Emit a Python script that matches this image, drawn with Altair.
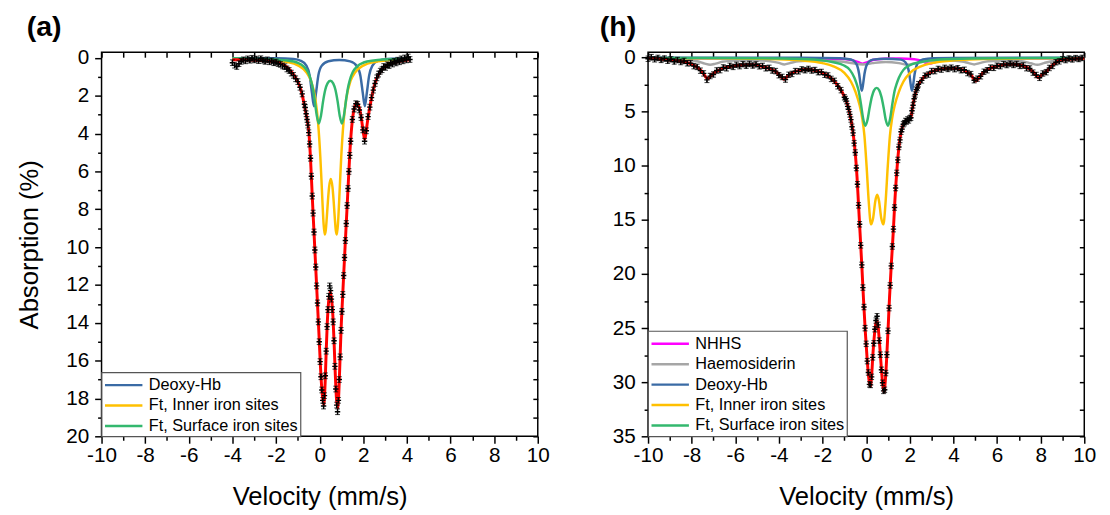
import altair as alt
import pandas as pd

FONT = "Liberation Sans"

# ---------------- Panel (a) ----------------
VEL_A = [-4.0, -3.9, -3.8, -3.7, -3.6, -3.5, -3.4, -3.3, -3.2, -3.1, -3.0, -2.9, -2.8, -2.7, -2.6, -2.5, -2.4,
         -2.3, -2.2, -2.1, -2.0, -1.9, -1.8, -1.7, -1.6, -1.5, -1.4, -1.3, -1.2, -1.1, -1.0, -0.9, -0.8, -0.7,
         -0.66, -0.62, -0.58, -0.54, -0.50, -0.46, -0.42, -0.38, -0.34, -0.30, -0.26, -0.22, -0.18, -0.14,
         -0.10, -0.06, -0.02, 0.02, 0.06, 0.10, 0.14, 0.18, 0.22, 0.26, 0.30, 0.34, 0.38, 0.42, 0.46, 0.50,
         0.54, 0.58, 0.62, 0.66, 0.70, 0.74, 0.78, 0.82, 0.86, 0.90, 0.94, 0.98, 1.02, 1.06, 1.10, 1.14, 1.18,
         1.22, 1.26, 1.30, 1.34, 1.38, 1.42,
         1.50, 1.58, 1.66, 1.74, 1.82, 1.90, 1.98, 2.06, 2.14, 2.22, 2.30, 2.38, 2.46, 2.54, 2.62, 2.70, 2.78,
         2.86, 2.94, 3.02, 3.10, 3.18, 3.26, 3.34, 3.42, 3.50, 3.58, 3.66, 3.74, 3.82, 3.90, 3.98, 4.06, 4.14]
ABS_A = [0.25, 0.38, 0.45, 0.30, 0.18, 0.10, 0.15, 0.05, 0.12, 0.02, 0.10, 0.06, 0.14, 0.04, 0.12, 0.18, 0.10,
         0.20, 0.16, 0.25, 0.22, 0.30, 0.34, 0.42, 0.46, 0.58, 0.66, 0.80, 0.92, 1.10, 1.25, 1.55, 1.90, 2.45,
         2.62, 2.95, 3.25, 3.55, 3.95, 4.55, 5.30, 6.25, 7.30, 8.20, 9.20, 10.15, 11.05, 12.05,
         12.95, 13.95, 15.00, 16.05, 16.85, 17.55, 18.10, 18.40, 17.85, 16.80, 15.50, 14.20, 13.30, 12.60, 12.05, 12.30,
         12.75, 13.30, 13.95, 14.95, 16.30, 17.50, 18.35, 18.70, 18.10, 17.00, 15.80, 14.40, 13.40, 12.50, 11.50, 10.55, 9.65,
         8.75, 7.80, 6.90, 6.00, 5.15, 4.40,
         3.25, 2.70, 2.42, 2.45, 2.75, 3.15, 3.80, 4.40, 3.85, 3.10, 2.60, 2.10, 1.70, 1.35, 1.05, 0.85, 0.70,
         0.62, 0.45, 0.50, 0.36, 0.40, 0.25, 0.32, 0.18, 0.26, 0.12, 0.20, 0.05, 0.15, 0.00, 0.10, -0.05, 0.08]
ERR_A = 0.15

FIT_A_V = [-4.0, -3.5, -3.0, -2.5, -2.0, -1.7, -1.5, -1.33, -1.1, -0.94, -0.8, -0.7, -0.6, -0.49, -0.42, -0.34,
           -0.26, -0.15, -0.04, 0.07, 0.13, 0.19, 0.25, 0.3, 0.35, 0.41, 0.49, 0.56, 0.61, 0.66, 0.72, 0.77, 0.82,
           0.87, 0.92, 0.98, 1.05, 1.1, 1.2, 1.3, 1.38, 1.45, 1.52, 1.6, 1.69, 1.78, 1.87, 1.95, 2.01, 2.07, 2.13,
           2.2, 2.3, 2.4, 2.5, 2.6, 2.75, 2.97, 3.2, 3.5, 3.8, 4.1]
FIT_A = [0.10, 0.10, 0.12, 0.15, 0.22, 0.33, 0.48, 0.68, 1.05, 1.42, 1.95, 2.5, 3.1, 4.0, 5.3, 7.3,
         9.2, 11.8, 14.4, 17.0, 17.9, 18.35, 17.2, 15.5, 14.0, 12.9, 12.36, 12.9, 13.7, 15.0, 16.8, 18.0, 18.5,
         17.9, 16.4, 14.4, 12.7, 11.5, 9.2, 6.9, 5.1, 3.9, 3.1, 2.6, 2.38, 2.5, 2.9, 3.5, 4.0, 4.3, 3.9,
         3.3, 2.6, 2.0, 1.5, 1.12, 0.78, 0.47, 0.33, 0.22, 0.15, 0.10]

DEOXY_A_V = [-4, -2, -1.2, -0.86, -0.61, -0.46, -0.35, -0.26, -0.17, -0.06, 0.09, 0.4, 0.9, 1.4, 1.72, 1.87,
             1.98, 2.07, 2.16, 2.27, 2.42, 2.67, 3.1, 4.1]
DEOXY_A = [0.01, 0.02, 0.06, 0.15, 0.40, 0.92, 1.87, 2.55, 1.87, 0.92, 0.42, 0.17, 0.11, 0.18, 0.45, 0.95,
           1.87, 2.55, 1.87, 0.92, 0.40, 0.15, 0.06, 0.02]
INNER_A_V = [-4, -3, -2, -1.5, -1, -0.6, -0.4, -0.2, -0.07, 0.03, 0.08, 0.13, 0.18, 0.23, 0.28, 0.33, 0.38,
             0.43, 0.51, 0.59, 0.64, 0.69, 0.74, 0.79, 0.84, 0.89, 0.94, 0.99, 1.09, 1.22, 1.42, 1.62, 2.02,
             2.52, 3.02, 4.1]
INNER_A = [0.04, 0.07, 0.135, 0.21, 0.39, 0.77, 1.2, 2.15, 3.46, 5.22, 6.39, 7.66, 8.76, 9.33, 9.11, 8.39, 7.54,
           6.85, 6.40, 6.85, 7.54, 8.39, 9.11, 9.33, 8.76, 7.66, 6.39, 5.22, 3.46, 2.15, 1.2, 0.77, 0.39,
           0.21, 0.135, 0.07]
SURF_A_V = [-4, -3, -2, -1.5, -1.04, -0.74, -0.54, -0.44, -0.34, -0.24, -0.14, -0.04, 0.06, 0.16, 0.26, 0.36,
            0.49, 0.62, 0.72, 0.82, 0.92, 1.02, 1.12, 1.22, 1.32, 1.42, 1.52, 1.72, 2.02, 2.48, 2.98, 4.1]
SURF_A = [0.02, 0.04, 0.08, 0.13, 0.24, 0.44, 0.74, 1.02, 1.46, 2.14, 2.99, 3.47, 3.05, 2.27, 1.67, 1.34,
          1.2, 1.34, 1.67, 2.27, 3.05, 3.47, 2.99, 2.14, 1.46, 1.02, 0.74, 0.44, 0.24, 0.13, 0.08, 0.04]

# ---------------- Panel (h) ----------------
VEL_H = [-10.00, -9.85, -9.70, -9.55, -9.40, -9.25, -9.10, -8.95, -8.80, -8.65, -8.50, -8.35, -8.20, -8.05,
         -7.90, -7.75, -7.60, -7.45, -7.30, -7.15, -7.00, -6.85, -6.70, -6.55, -6.40, -6.25, -6.10, -5.95,
         -5.80, -5.65, -5.50, -5.35, -5.20, -5.05, -4.90, -4.75, -4.60, -4.45, -4.30, -4.15, -4.00, -3.85,
         -3.70, -3.55, -3.40, -3.25, -3.10, -2.95, -2.80, -2.65, -2.50, -2.35, -2.20, -2.05, -1.90, -1.75,
         -1.60, -1.45, -1.30, -1.15, -1.00,
         -0.95, -0.90, -0.85, -0.80, -0.75, -0.70, -0.65, -0.60, -0.55, -0.50, -0.45, -0.40, -0.35, -0.30,
         -0.25, -0.20, -0.15, -0.10, -0.05, 0.00, 0.05, 0.10, 0.15, 0.20, 0.25, 0.30, 0.35, 0.40, 0.45, 0.50,
         0.55, 0.60, 0.65, 0.70, 0.75, 0.80, 0.85, 0.90, 0.95, 1.00, 1.05, 1.10, 1.15, 1.20, 1.25, 1.30, 1.35,
         1.40, 1.45, 1.50, 1.55, 1.60, 1.65, 1.70, 1.75, 1.80, 1.85, 1.90, 1.95, 2.00, 2.05, 2.10, 2.15, 2.20,
         2.25, 2.30, 2.35, 2.40,
         2.55, 2.70, 2.85, 3.00, 3.15, 3.30, 3.45, 3.60, 3.75, 3.90, 4.05, 4.20, 4.35, 4.50, 4.65, 4.80, 4.95,
         5.10, 5.25, 5.40, 5.55, 5.70, 5.85, 6.00, 6.15, 6.30, 6.45, 6.60, 6.75, 6.90, 7.05, 7.20, 7.35, 7.50,
         7.65, 7.80, 7.95, 8.10, 8.25, 8.40, 8.55, 8.70, 8.85, 9.00, 9.15, 9.30, 9.45, 9.60, 9.75, 9.90]
ABS_H = [0.10, -0.05, 0.15, 0.02, 0.20, 0.08, 0.28, 0.15, 0.35, 0.22, 0.40, 0.30, 0.52, 0.50,
         0.78, 0.85, 1.20, 1.45, 2.05, 1.70, 1.55, 1.18, 1.15, 0.90, 0.98, 0.75, 0.85, 0.66,
         0.78, 0.60, 0.74, 0.58, 0.72, 0.62, 0.80, 0.76, 0.98, 0.94, 1.18, 1.24, 1.62, 1.78,
         2.02, 1.58, 1.50, 1.24, 1.26, 1.08, 1.16, 1.04, 1.18, 1.14, 1.34, 1.32, 1.58, 1.64,
         1.96, 2.14, 2.64, 3.00, 3.66,
         3.82, 4.02, 4.50, 4.78, 5.24, 5.72, 6.38, 6.95, 7.90, 8.76, 10.20, 11.70, 13.65, 15.40,
         17.35, 19.15, 21.25, 23.05, 25.00, 26.45, 28.05, 29.10, 30.20, 30.25, 29.50, 27.70, 26.40, 25.10, 24.30, 23.90,
         24.70, 26.15, 27.45, 28.85, 30.05, 30.80, 30.70, 29.15, 27.45, 25.25, 23.15, 21.05, 19.25, 17.45, 15.85, 13.85, 12.05,
         10.65, 9.45, 8.25, 7.60, 6.85, 6.60, 6.15, 6.05, 5.85, 5.90, 5.70, 5.80, 5.60, 5.55, 4.90, 4.40, 3.80,
         3.40, 2.95, 2.80, 2.45,
         2.10, 1.66, 1.56, 1.24, 1.24, 1.04, 1.10, 0.94, 1.04, 0.92, 1.06, 0.98, 1.16, 1.12, 1.42, 1.52, 2.08,
         1.94, 1.72, 1.30, 1.16, 0.92, 0.94, 0.74, 0.78, 0.60, 0.68, 0.55, 0.67, 0.58, 0.76, 0.72, 0.97, 1.00,
         1.38, 1.60, 1.86, 1.46, 1.34, 0.95, 0.76, 0.42, 0.34, 0.14, 0.22, 0.08, 0.16, 0.04, 0.12, 0.02]
ERR_H = 0.25

FIT_H_V = [-10, -9.64, -9.11, -8.6, -8.2, -7.9, -7.6, -7.4, -7.28, -7.15, -7.0, -6.8, -6.55, -6.2, -5.8, -5.4,
           -5.05, -4.8, -4.6, -4.35, -4.14, -3.95, -3.77, -3.6, -3.4, -3.1, -2.79, -2.5, -2.34, -2.0, -1.74, -1.5,
           -1.29, -1.1, -0.91, -0.75, -0.61, -0.5, -0.42, -0.35, -0.28, -0.2, -0.12, -0.04, 0.05, 0.13, 0.19,
           0.25, 0.31, 0.38, 0.44, 0.49, 0.55, 0.62, 0.7, 0.77, 0.82, 0.88, 0.94, 1.0, 1.07, 1.15, 1.24, 1.32,
           1.42, 1.5, 1.6, 1.72, 1.85, 1.97, 2.05, 2.12, 2.18, 2.28, 2.4, 2.6, 2.78, 3.0, 3.23, 3.5, 3.83, 4.1,
           4.43, 4.65, 4.8, 4.93, 5.03, 5.15, 5.34, 5.6, 5.94, 6.3, 6.69, 7.1, 7.44, 7.7, 7.89, 8.05, 8.34, 8.6,
           8.95, 9.4, 10]
FIT_H = [0.05, 0.08, 0.2, 0.3, 0.45, 0.7, 1.12, 1.65, 1.95, 1.75, 1.45, 1.2, 0.97, 0.8, 0.7, 0.65,
         0.68, 0.8, 0.9, 1.08, 1.3, 1.65, 2.0, 1.7, 1.42, 1.2, 1.1, 1.12, 1.2, 1.4, 1.7, 2.1,
         2.6, 3.2, 4.0, 5.2, 6.8, 8.8, 11.0, 13.6, 16.2, 19.2, 22.4, 25.3, 28.0, 29.8, 30.4,
         29.4, 27.4, 25.6, 24.6, 24.3, 24.9, 26.6, 28.8, 30.4, 30.9, 29.8, 27.8, 25.3, 22.2, 19.2, 16.2, 13.1,
         10.1, 8.3, 6.9, 6.1, 5.8, 5.7, 5.5, 4.7, 4.0, 3.1, 2.5, 1.9, 1.58, 1.3, 1.12, 1.02, 0.97, 1.0,
         1.12, 1.35, 1.58, 1.95, 2.15, 1.9, 1.43, 1.05, 0.82, 0.65, 0.6, 0.7, 0.97, 1.4, 1.85, 1.6, 1.12, 0.6,
         0.21, 0.12, 0.05]

NHHS_V = [-10, -2, -1, -0.6, -0.35, -0.16, 0.05, 0.3, 0.8, 1.5, 2.2, 2.55, 2.75, 2.9, 3.1, 3.35, 3.9, 5, 10]
NHHS = [0.05, 0.07, 0.12, 0.25, 0.42, 0.55, 0.42, 0.22, 0.1, 0.08, 0.15, 0.3, 0.48, 0.55, 0.45, 0.25, 0.1, 0.06, 0.05]
HAEM_V = [-10, -8.2, -7.7, -7.4, -7.15, -6.9, -6.6, -6, -5, -4.4, -4.0, -3.75, -3.5, -3.1, -2.3, -1.2, -0.6,
          -0.15, 0.3, 0.9, 1.5, 1.9, 2.3, 2.9, 3.8, 4.4, 4.7, 4.95, 5.2, 5.6, 6.5, 7.2, 7.55, 7.85, 8.15, 8.6,
          9.3, 10]
HAEM = [0.2, 0.24, 0.35, 0.55, 0.65, 0.55, 0.38, 0.27, 0.25, 0.32, 0.48, 0.62, 0.5, 0.33, 0.27, 0.35, 0.52,
        0.62, 0.5, 0.4, 0.5, 0.65, 0.48, 0.3, 0.26, 0.35, 0.5, 0.62, 0.5, 0.32, 0.26, 0.35, 0.52, 0.66, 0.5, 0.3,
        0.22, 0.2]
DEOXY_H_V = [-10, -3, -1.2, -0.7, -0.5, -0.4, -0.32, -0.26, -0.2, -0.14, -0.08, 0.0, 0.1, 0.3, 0.9, 1.6, 1.8,
             1.9, 1.98, 2.04, 2.1, 2.16, 2.22, 2.3, 2.4, 2.6, 3.1, 4, 10]
DEOXY_H = [0.0, 0.01, 0.05, 0.17, 0.42, 0.81, 1.53, 2.44, 3.05, 2.44, 1.53, 0.81, 0.43, 0.18, 0.1, 0.18, 0.43,
           0.81, 1.53, 2.44, 3.05, 2.44, 1.53, 0.81, 0.42, 0.17, 0.05, 0.02, 0.0]
INNER_H_V = [-10, -6, -4, -3, -2, -1.5, -1, -0.7, -0.5, -0.3, -0.18, -0.08, 0.02, 0.12, 0.22, 0.32, 0.42, 0.505,
             0.59, 0.69, 0.79, 0.89, 0.99, 1.09, 1.19, 1.31, 1.51, 1.71, 2.01, 2.51, 3.01, 4.01, 5.01, 7.01, 10]
INNER_H = [0.04, 0.07, 0.14, 0.25, 0.5, 0.8, 1.4, 2.2, 3.1, 4.4, 5.6, 7.2, 10.05, 13.36, 15.41, 14.82, 13.24, 12.67,
           13.24, 14.82, 15.41, 13.36, 10.05, 7.2, 5.6, 4.4, 3.1, 2.2, 1.4, 0.8, 0.5, 0.25, 0.14, 0.07, 0.04]
SURF_H_V = [-10, -5, -3, -2, -1.5, -1.04, -0.74, -0.54, -0.44, -0.34, -0.24, -0.14, -0.04, 0.06, 0.16, 0.26,
            0.36, 0.48, 0.6, 0.7, 0.8, 0.9, 1.0, 1.1, 1.2, 1.3, 1.4, 1.5, 1.7, 2.0, 2.46, 2.96, 3.96, 5.96, 10]
SURF_H = [0.02, 0.05, 0.12, 0.25, 0.42, 0.7, 1.15, 1.85, 2.4, 3.1, 4.28, 5.61, 6.29, 5.76, 4.61, 3.62,
          3.02, 2.79, 3.02, 3.62, 4.61, 5.76, 6.29, 5.61, 4.28, 3.1, 2.4, 1.85, 1.15, 0.7, 0.42, 0.25, 0.12, 0.05, 0.02]

NAMES = ["NHHS", "Haemosiderin", "Deoxy-Hb", "Ft, Inner iron sites", "Ft, Surface iron sites"]
COLORS = ["#FF00FF", "#A6A6A6", "#3A6BA5", "#FFC000", "#33B86E"]

W, H = 443, 390


def comp_frame(pairs):
    rows = []
    for name, vs, ys in pairs:
        for v, y in zip(vs, ys, strict=True):
            rows.append({"v": v, "a": y, "comp": name})
    return pd.DataFrame(rows)


def panel(vel, ab, err, fit_v, fit_a, comps, ydom, ymaj, ymin, yright, label, label_dx, ytitle, names, colors):
    xs = alt.Scale(domain=[-10, 10], nice=False, zero=False)
    ys = alt.Scale(domain=ydom, reverse=True, nice=False, zero=False)
    pts = pd.DataFrame({"v": vel, "a": ab})
    pts["lo"] = pts["a"] - err
    pts["hi"] = pts["a"] + err
    fit = pd.DataFrame({"v": fit_v, "a": fit_a})
    cdf = comp_frame(comps)

    ax_x_major = alt.Axis(orient="bottom", values=list(range(-10, 11, 2)), tickSize=7, labelPadding=2,
                          labelFontSize=21, labelExpr="'' + datum.value",
                          title="Velocity (mm/s)", titleFontSize=26, titlePadding=18,
                          titleFontWeight="normal", labelFlush=False, labelOverlap=False)
    ax_x_minor = alt.Axis(orient="bottom", values=list(range(-9, 10, 2)), tickSize=4, labels=False, title=None)
    ax_x_top = alt.Axis(orient="top", values=list(range(-10, 11)), tickSize=5, offset=-5, labels=False, title=None)
    ax_y_major = alt.Axis(orient="left", values=ymaj, tickSize=7, labelPadding=6, labelFontSize=21,
                          title=ytitle if ytitle else None, titleFontSize=26, titlePadding=24,
                          titleFontWeight="normal", labelFlush=False, labelOverlap=False)
    ax_y_minor = alt.Axis(orient="left", values=ymin, tickSize=4, labels=False, title=None)
    ax_y_right = alt.Axis(orient="right", values=yright, tickSize=5, offset=-5, labels=False, title=None)

    lines = alt.Chart(cdf).mark_line(strokeWidth=2.5, interpolate="monotone").encode(
        x=alt.X("v:Q", scale=xs, axis=ax_x_major),
        y=alt.Y("a:Q", scale=ys, axis=ax_y_major),
        color=alt.Color("comp:N", scale=alt.Scale(domain=names, range=colors),
                        legend=alt.Legend(orient="bottom-left", offset=0, title=None)),
        order=alt.Order("v:Q"),
    )
    fitline = alt.Chart(fit).mark_line(strokeWidth=3, color="#FF0000", interpolate="monotone").encode(
        x=alt.X("v:Q", scale=xs, axis=ax_x_minor),
        y=alt.Y("a:Q", scale=ys, axis=ax_y_minor),
        order=alt.Order("v:Q"),
    )
    bars = alt.Chart(pts).mark_rule(strokeWidth=1.1, color="black").encode(
        x=alt.X("v:Q", scale=xs, axis=ax_x_top),
        y=alt.Y("lo:Q", scale=ys, axis=ax_y_right),
        y2="hi:Q",
    )
    cap_lo = alt.Chart(pts).mark_tick(orient="horizontal", size=5, thickness=1.1, color="black").encode(
        x=alt.X("v:Q", scale=xs, axis=None),
        y=alt.Y("lo:Q", scale=ys, axis=None),
    )
    cap_hi = alt.Chart(pts).mark_tick(orient="horizontal", size=5, thickness=1.1, color="black").encode(
        x=alt.X("v:Q", scale=xs, axis=None),
        y=alt.Y("hi:Q", scale=ys, axis=None),
    )
    marks = alt.Chart(pts).mark_point(shape="M-1,0L1,0M0,-1L0,1", size=30, filled=False, strokeWidth=1.4,
                                      color="black", opacity=1).encode(
        x=alt.X("v:Q", scale=xs, axis=None),
        y=alt.Y("a:Q", scale=ys, axis=None),
    )
    return alt.layer(lines, fitline, bars, cap_lo, cap_hi, marks).resolve_scale(
        x="independent", y="independent"
    ).properties(
        width=W, height=H,
        title=alt.TitleParams(label, anchor="start", frame="group", fontSize=29, fontWeight="bold", font=FONT,
                              dx=label_dx, offset=5, color="black"),
    )


pa = panel(VEL_A, ABS_A, ERR_A, FIT_A_V, FIT_A,
           [("Deoxy-Hb", DEOXY_A_V, DEOXY_A), ("Ft, Inner iron sites", INNER_A_V, INNER_A),
            ("Ft, Surface iron sites", SURF_A_V, SURF_A)],
           [-0.3, 20], list(range(0, 21, 2)), list(range(1, 20, 2)), list(range(0, 21)),
           "(a)", -76, "Absorption (%)", NAMES[2:], COLORS[2:])
ph = panel(VEL_H, ABS_H, ERR_H, FIT_H_V, FIT_H,
           [("NHHS", NHHS_V, NHHS), ("Haemosiderin", HAEM_V, HAEM), ("Deoxy-Hb", DEOXY_H_V, DEOXY_H),
            ("Ft, Inner iron sites", INNER_H_V, INNER_H), ("Ft, Surface iron sites", SURF_H_V, SURF_H)],
           [-0.5, 35], list(range(0, 36, 5)), [2.5, 7.5, 12.5, 17.5, 22.5, 27.5, 32.5],
           [0, 2.5, 5, 7.5, 10, 12.5, 15, 17.5, 20, 22.5, 25, 27.5, 30, 32.5, 35],
           "(h)", -49, None, NAMES, COLORS)

chart = alt.hconcat(pa, ph, spacing=49).resolve_scale(color="independent").properties(
    padding={"left": 7, "top": 0, "right": 5, "bottom": 5}
).configure_view(stroke="black", strokeWidth=1.5).configure_axis(
    labelFont=FONT, titleFont=FONT, labelColor="black", titleColor="black", tickColor="black",
    tickWidth=1.5, grid=False, domain=False,
).configure_legend(
    symbolType="M-1,0L3,0", symbolSize=361, symbolStrokeWidth=2.5, labelFont=FONT, labelFontSize=16.5,
    labelColor="black", fillColor="white", strokeColor="#555555", strokeWidth=1.2, padding=2,
    rowPadding=0.75, labelOffset=24, labelLimit=400, cornerRadius=0,
)

chart.save("out.html", embed_options={"renderer": "svg", "actions": False})
